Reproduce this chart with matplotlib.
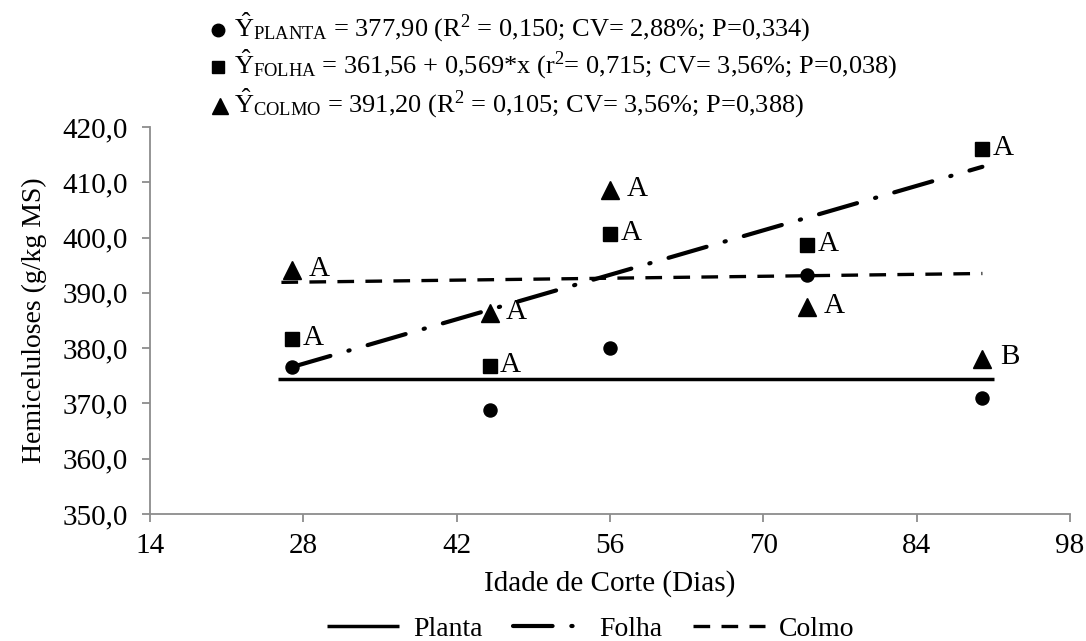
import matplotlib
matplotlib.use("Agg")
import matplotlib.pyplot as plt
from matplotlib.lines import Line2D
from matplotlib.ticker import FuncFormatter

plt.rcParams['font.family'] = ['Liberation Serif', 'DejaVu Serif']
plt.rcParams['mathtext.fontset'] = 'custom'
plt.rcParams['mathtext.rm'] = 'Liberation Serif'
plt.rcParams['mathtext.it'] = 'Liberation Serif:italic'

# ---- data ----
days = [27, 45, 56, 74, 90]
planta = [376.5, 368.9, 380.1, 393.2, 370.9]
folha = [381.6, 376.7, 400.6, 398.6, 416.0]
colmo = [394.1, 386.3, 408.6, 387.4, 378.1]
folha_letters = ['A', 'A', 'A', 'A', 'A']
colmo_letters = ['A', 'A', 'A', 'A', 'B']

planta_fit_x = [25.7, 91.1]
planta_fit_y = [374.5, 374.5]
folha_fit_x = [27, 90]
folha_fit_y = [376.6, 412.8]
colmo_fit_x = [26.0, 90]
colmo_fit_y = [391.9, 393.5]

x_ticks = [14, 28, 42, 56, 70, 84, 98]
y_ticks = [350, 360, 370, 380, 390, 400, 410, 420]

eq_texts = [
    r'$\hat{\mathrm{Y}}_{\mathrm{PLANTA}}$ = 377,90 (R$^{2}$ = 0,150; CV= 2,88%; P=0,334)',
    r'$\hat{\mathrm{Y}}_{\mathrm{FOLHA}}$ = 361,56 + 0,569*x (r$^{2}$= 0,715; CV= 3,56%; P=0,038)',
    r'$\hat{\mathrm{Y}}_{\mathrm{COLMO}}$ = 391,20 (R$^{2}$ = 0,105; CV= 3,56%; P=0,388)',
]

W, H = 1086, 641
fig = plt.figure(figsize=(W / 100, H / 100), dpi=100)
ax = fig.add_axes([150 / W, 1 - 514 / H, (1070 - 150) / W, (514 - 127) / H])

# fitted lines
lp, = ax.plot(planta_fit_x, planta_fit_y, color='black', lw=2.5, solid_capstyle='butt', label='Planta')
lf, = ax.plot(folha_fit_x, folha_fit_y, color='black', lw=3.0, linestyle=(0, (9.5, 4.5, 0.3, 4.5)),
              dash_capstyle='round', label='Folha')
lc, = ax.plot(colmo_fit_x, colmo_fit_y, color='black', lw=2.4, linestyle=(0, (5.0, 3.4)),
              dash_capstyle='butt', label='Colmo')

# points
ax.plot(days, planta, linestyle='none', marker='o', ms=9.4, color='black', zorder=5)
ax.plot(days, folha, linestyle='none', marker='s', ms=10, color='black', zorder=5)
ax.plot(days, colmo, linestyle='none', marker='^', ms=13, color='black', zorder=5)

for x, y, t in zip(days, folha, folha_letters):
    ax.annotate(t, (x, y), xytext=(15, 1), textcoords='offset points', ha='center', va='center',
                fontsize=21)
for x, y, t in zip(days, colmo, colmo_letters):
    ax.annotate(t, (x, y), xytext=(19.5, 1), textcoords='offset points', ha='center', va='center',
                fontsize=21)

ax.set_xlim(14, 98)
ax.set_ylim(350, 420)
ax.set_xticks(x_ticks)
ax.set_yticks(y_ticks)
ax.yaxis.set_major_formatter(FuncFormatter(lambda v, p: f'{v:.1f}'.replace('.', ',')))
for s in ['top', 'right']:
    ax.spines[s].set_visible(False)
for s in ['left', 'bottom']:
    ax.spines[s].set_color('#8c8c8c')
    ax.spines[s].set_linewidth(1.3)
ax.tick_params(axis='both', direction='out', length=6, width=1.3, color='#8c8c8c',
               labelsize=21, labelcolor='black')
ax.tick_params(axis='x', pad=8)
ax.tick_params(axis='y', pad=10)

ax.set_xlabel('Idade de Corte (Dias)', fontsize=21, labelpad=8)
ax.set_ylabel('Hemiceluloses (g/kg MS)', fontsize=20, labelpad=11)

leg = ax.legend(handles=[lp, lf, lc], loc='center', bbox_to_anchor=(591 / W, 1 - 629 / H),
                bbox_transform=fig.transFigure, ncol=3, frameon=False, fontsize=20,
                handlelength=2.6, handletextpad=0.5, columnspacing=1.1, borderaxespad=0)

# equation annotations at top
sym_markers = ['o', 's', '^']
sym_sizes = [9, 9, 12]
sym_x = [218, 218, 220]
base_y = [37, 74, 113]
for txt, m, ms, sx, by in zip(eq_texts, sym_markers, sym_sizes, sym_x, base_y):
    fig.add_artist(Line2D([sx / W], [1 - (by - 7) / H], transform=fig.transFigure,
                          marker=m, ms=ms, color='black', linestyle='none'))
    fig.text(234 / W, 1 - by / H, txt, fontsize=19, ha='left', va='baseline')

fig.savefig('out.png', dpi=100)
